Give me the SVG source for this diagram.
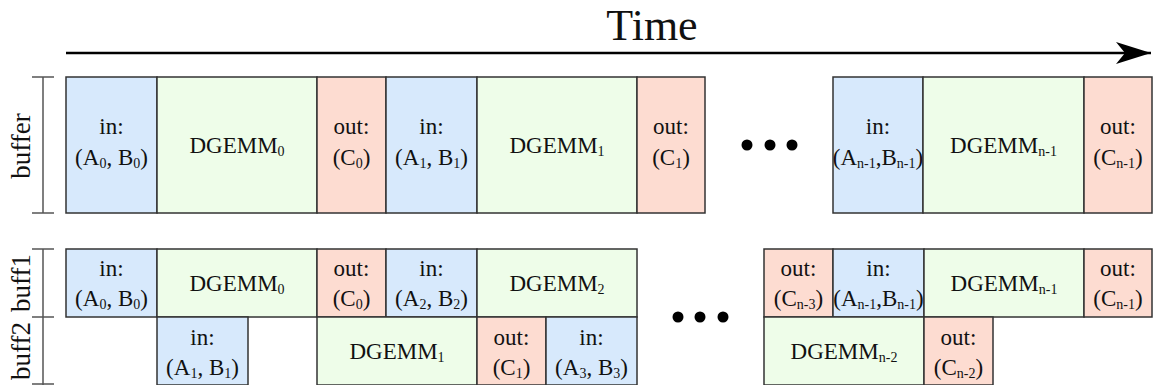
<svg xmlns="http://www.w3.org/2000/svg" width="1153" height="385" viewBox="0 0 1153 385">
<style>
text{font-family:"Liberation Serif","Times New Roman",serif;font-size:23px;fill:#111;text-anchor:middle}
.s{font-size:14px}
.in{fill:#d7e9fc;stroke:#333;stroke-width:1.5}
.dg{fill:#eefde9;stroke:#333;stroke-width:1.5}
.out{fill:#fddcd1;stroke:#333;stroke-width:1.5}
.br{stroke:#555;stroke-width:1.5;fill:none}
.lbl{font-size:27px}
</style>
<defs>
<marker id="ah" markerWidth="36" markerHeight="24" refX="35" refY="12" orient="auto" markerUnits="userSpaceOnUse">
<path d="M35,12 L0,1 L9,12 L0,23 Z" fill="#000"/>
</marker>
</defs>

<text x="652" y="40" style="font-size:44px">Time</text>

<g id="connectors">
<line x1="66" y1="53" x2="1151" y2="53" stroke="#000" stroke-width="2.5" marker-end="url(#ah)"/>
</g>

<g id="brackets">
<path class="br" d="M43,77 V213 M32,77 H54 M32,213 H54"/>
<path class="br" d="M43,249 V385 M32,249 H54 M32,317 H54 M32,384 H54"/>
<text class="lbl" transform="translate(30,146) rotate(-90)">buffer</text>
<text class="lbl" transform="translate(30,283) rotate(-90)">buff1</text>
<text class="lbl" transform="translate(30,351) rotate(-90)">buff2</text>
</g>

<!-- top row -->
<g id="t_in0"><rect class="in" x="66" y="77" width="91" height="136"/><text x="111.5" y="134">in:</text><text x="111.5" y="165">(A<tspan class="s" dy="3">0</tspan><tspan dy="-3">, B</tspan><tspan class="s" dy="3">0</tspan><tspan dy="-3">)</tspan></text></g>
<g id="t_dg0"><rect class="dg" x="157" y="77" width="160" height="136"/><text x="237" y="153">DGEMM<tspan class="s" dy="3">0</tspan></text></g>
<g id="t_out0"><rect class="out" x="317" y="77" width="69" height="136"/><text x="351.5" y="134">out:</text><text x="351.5" y="165">(C<tspan class="s" dy="3">0</tspan><tspan dy="-3">)</tspan></text></g>
<g id="t_in1"><rect class="in" x="386" y="77" width="91" height="136"/><text x="431.5" y="134">in:</text><text x="431.5" y="165">(A<tspan class="s" dy="3">1</tspan><tspan dy="-3">, B</tspan><tspan class="s" dy="3">1</tspan><tspan dy="-3">)</tspan></text></g>
<g id="t_dg1"><rect class="dg" x="477" y="77" width="160" height="136"/><text x="557" y="153">DGEMM<tspan class="s" dy="3">1</tspan></text></g>
<g id="t_out1"><rect class="out" x="637" y="77" width="68" height="136"/><text x="671" y="134">out:</text><text x="671" y="165">(C<tspan class="s" dy="3">1</tspan><tspan dy="-3">)</tspan></text></g>
<g id="t_dots"><circle cx="747" cy="145" r="5.5"/><circle cx="770" cy="145" r="5.5"/><circle cx="792" cy="145" r="5.5"/></g>
<g id="t_inn1"><rect class="in" x="833" y="77" width="90" height="136"/><text x="878" y="134">in:</text><text x="878" y="165">(A<tspan class="s" dy="3">n-1</tspan><tspan dy="-3">,B</tspan><tspan class="s" dy="3">n-1</tspan><tspan dy="-3">)</tspan></text></g>
<g id="t_dgn1"><rect class="dg" x="923" y="77" width="161" height="136"/><text x="1003.5" y="153">DGEMM<tspan class="s" dy="3">n-1</tspan></text></g>
<g id="t_outn1"><rect class="out" x="1084" y="77" width="68" height="136"/><text x="1118" y="134">out:</text><text x="1118" y="165">(C<tspan class="s" dy="3">n-1</tspan><tspan dy="-3">)</tspan></text></g>

<!-- buff1 row -->
<g id="b1_in0"><rect class="in" x="66" y="249" width="91" height="68"/><text x="111.5" y="276">in:</text><text x="111.5" y="306">(A<tspan class="s" dy="3">0</tspan><tspan dy="-3">, B</tspan><tspan class="s" dy="3">0</tspan><tspan dy="-3">)</tspan></text></g>
<g id="b1_dg0"><rect class="dg" x="157" y="249" width="160" height="68"/><text x="237" y="291">DGEMM<tspan class="s" dy="3">0</tspan></text></g>
<g id="b1_out0"><rect class="out" x="317" y="249" width="69" height="68"/><text x="351.5" y="276">out:</text><text x="351.5" y="306">(C<tspan class="s" dy="3">0</tspan><tspan dy="-3">)</tspan></text></g>
<g id="b1_in2"><rect class="in" x="386" y="249" width="91" height="68"/><text x="431.5" y="276">in:</text><text x="431.5" y="306">(A<tspan class="s" dy="3">2</tspan><tspan dy="-3">, B</tspan><tspan class="s" dy="3">2</tspan><tspan dy="-3">)</tspan></text></g>
<g id="b1_dg2"><rect class="dg" x="477" y="249" width="160" height="68"/><text x="557" y="291">DGEMM<tspan class="s" dy="3">2</tspan></text></g>
<g id="b_dots"><circle cx="678" cy="317" r="5.5"/><circle cx="700" cy="317" r="5.5"/><circle cx="723" cy="317" r="5.5"/></g>
<g id="b1_outn3"><rect class="out" x="764" y="249" width="69" height="68"/><text x="798.5" y="276">out:</text><text x="798.5" y="306">(C<tspan class="s" dy="3">n-3</tspan><tspan dy="-3">)</tspan></text></g>
<g id="b1_inn1"><rect class="in" x="833" y="249" width="91" height="68"/><text x="878.5" y="276">in:</text><text x="878.5" y="306">(A<tspan class="s" dy="3">n-1</tspan><tspan dy="-3">,B</tspan><tspan class="s" dy="3">n-1</tspan><tspan dy="-3">)</tspan></text></g>
<g id="b1_dgn1"><rect class="dg" x="924" y="249" width="160" height="68"/><text x="1004" y="291">DGEMM<tspan class="s" dy="3">n-1</tspan></text></g>
<g id="b1_outn1"><rect class="out" x="1084" y="249" width="68" height="68"/><text x="1118" y="276">out:</text><text x="1118" y="306">(C<tspan class="s" dy="3">n-1</tspan><tspan dy="-3">)</tspan></text></g>

<!-- buff2 row -->
<g id="b2_in1"><rect class="in" x="157" y="317" width="91" height="68"/><text x="202.5" y="345">in:</text><text x="202.5" y="375">(A<tspan class="s" dy="3">1</tspan><tspan dy="-3">, B</tspan><tspan class="s" dy="3">1</tspan><tspan dy="-3">)</tspan></text></g>
<g id="b2_dg1"><rect class="dg" x="317" y="317" width="160" height="68"/><text x="397" y="359">DGEMM<tspan class="s" dy="3">1</tspan></text></g>
<g id="b2_out1"><rect class="out" x="477" y="317" width="69" height="68"/><text x="511.5" y="345">out:</text><text x="511.5" y="375">(C<tspan class="s" dy="3">1</tspan><tspan dy="-3">)</tspan></text></g>
<g id="b2_in3"><rect class="in" x="546" y="317" width="91" height="68"/><text x="591.5" y="345">in:</text><text x="591.5" y="375">(A<tspan class="s" dy="3">3</tspan><tspan dy="-3">, B</tspan><tspan class="s" dy="3">3</tspan><tspan dy="-3">)</tspan></text></g>
<g id="b2_dgn2"><rect class="dg" x="764" y="317" width="160" height="68"/><text x="844" y="359">DGEMM<tspan class="s" dy="3">n-2</tspan></text></g>
<g id="b2_outn2"><rect class="out" x="924" y="317" width="69" height="68"/><text x="958.5" y="345">out:</text><text x="958.5" y="375">(C<tspan class="s" dy="3">n-2</tspan><tspan dy="-3">)</tspan></text></g>
</svg>
